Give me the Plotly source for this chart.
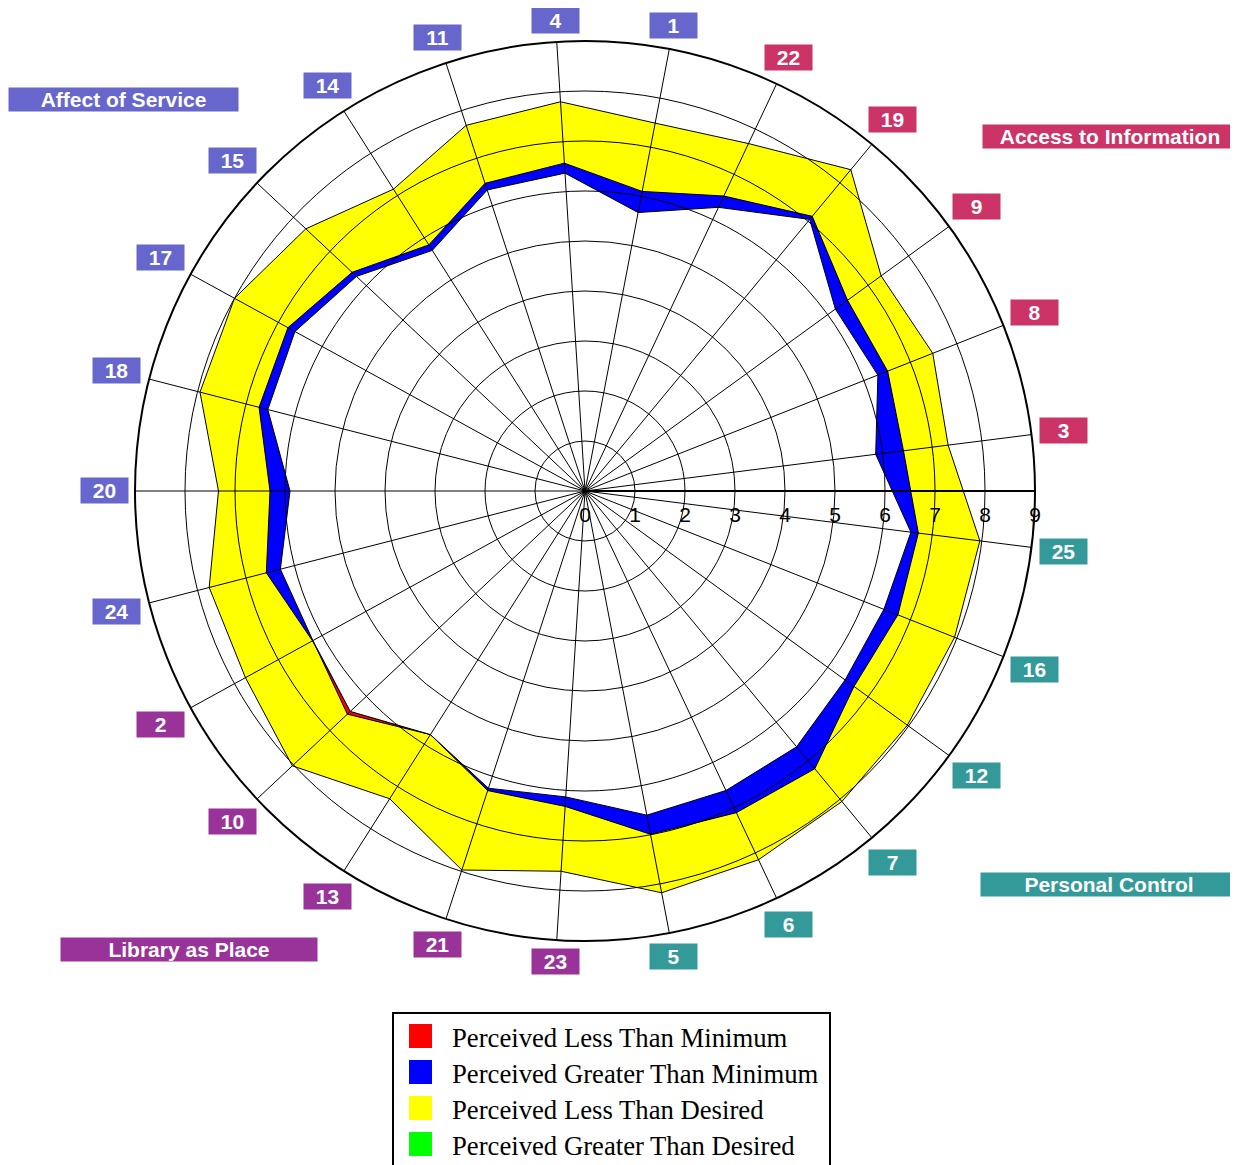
import numpy as np
import plotly.graph_objects as go

# page body has an 8px margin: the figure is laid out in page pixels minus that offset
OFF = 8
W, H = 1238 - OFF, 1165 - OFF

# ---- data (clockwise from the top) ----
questions = ["4", "1", "22", "19", "9", "8", "3", "25", "16", "12", "7", "6", "5",
             "23", "21", "13", "10", "2", "24", "20", "18", "17", "15", "14", "11"]
dimension = ["AS", "AS", "IC", "IC", "IC", "IC", "IC", "PC", "PC", "PC", "PC", "PC", "PC",
             "LP", "LP", "LP", "LP", "LP", "AS", "AS", "AS", "AS", "AS", "AS", "AS"]
desired = [7.80, 7.49, 7.68, 8.34, 7.32, 7.48, 7.32, 7.96, 7.95, 7.97, 8.06, 8.15, 8.18,
           7.62, 7.97, 7.29, 8.03, 7.75, 7.76, 7.33, 7.95, 8.00, 7.66, 7.15, 7.69]
perceived = [6.57, 6.10, 6.52, 7.13, 6.49, 6.51, 6.42, 6.72, 6.73, 6.65, 7.21, 7.11, 6.99,
             6.32, 6.30, 5.77, 6.44, 6.22, 6.58, 6.30, 6.73, 6.78, 6.39, 5.83, 6.47]
minimum = [6.37, 5.67, 6.27, 7.05, 6.19, 6.30, 5.86, 6.57, 6.43, 6.43, 6.64, 6.62, 6.60,
           6.13, 6.25, 5.77, 6.52, 6.21, 6.29, 5.90, 6.55, 6.62, 6.27, 5.70, 6.33]
radial_ticks = [0, 1, 2, 3, 4, 5, 6, 7, 8, 9]

dim_names = {"AS": "Affect of Service", "IC": "Access to Information",
             "PC": "Personal Control", "LP": "Library as Place"}
dim_colors = {"AS": "#6666CC", "IC": "#CC3366", "PC": "#339999", "LP": "#993399"}
legend_names = ["Perceived Less Than Minimum", "Perceived Greater Than Minimum",
                "Perceived Less Than Desired", "Perceived Greater Than Desired"]
legend_colors = ["#FF0000", "#0000FF", "#FFFF00", "#00FF00"]

# ---- geometry (page pixels) ----
CX, CY, R = 585, 491, 450
ROT = 93.6
N = len(questions)


def px2paper(x, y):
    return (x - OFF) / W, 1 - (y - OFF) / H


def closed(v):
    v = list(v)
    return v + v[:1]


theta_c = closed(questions)
lower = np.minimum(np.array(perceived), np.array(minimum))

fig = go.Figure()
line = dict(color="black", width=1)
for vals, col in [(desired, "#FFFF00"), (minimum, "#FF0000"),
                  (perceived, "#0000FF"), (lower, "#FFFFFF")]:
    fig.add_trace(go.Scatterpolar(r=closed(vals), theta=theta_c, mode="lines",
                                  fill="toself", fillcolor=col, line=line,
                                  showlegend=False, hoverinfo="skip", subplot="polar"))

# overlay subplot carrying the grid above the fills
fig.add_trace(go.Scatterpolar(r=desired, theta=questions, mode="markers",
                              marker=dict(size=1, opacity=0), showlegend=False,
                              hoverinfo="skip", subplot="polar2"))

x0, y1 = px2paper(CX - R, CY - R)
x1, y0 = px2paper(CX + R, CY + R)
dom = dict(x=[x0, x1], y=[y0, y1])

ang_common = dict(type="category", categoryorder="array", categoryarray=questions,
                  direction="clockwise", rotation=ROT, showticklabels=False, ticks="")

fig.update_layout(
    width=W, height=H, margin=dict(l=0, r=0, t=0, b=0),
    paper_bgcolor="white", showlegend=False, hovermode=False, dragmode=False,
    polar=dict(domain=dom, bgcolor="white",
               radialaxis=dict(range=[0, 9], showgrid=False, showline=False,
                               showticklabels=False, ticks=""),
               angularaxis=dict(showgrid=False, showline=False, **ang_common)),
    polar2=dict(domain=dom, bgcolor="rgba(0,0,0,0)",
                radialaxis=dict(range=[0, 9], tickvals=radial_ticks, angle=0,
                                side="clockwise", showline=True, linecolor="black",
                                linewidth=2, showgrid=True, gridcolor="black",
                                gridwidth=1, ticks="outside", ticklen=5,
                                tickcolor="rgba(0,0,0,0)",
                                tickfont=dict(family="Liberation Sans, Arial", size=21,
                                              color="black")),
                angularaxis=dict(showgrid=True, gridcolor="black", gridwidth=1,
                                 showline=True, linecolor="black", linewidth=2,
                                 **ang_common)),
)

annotations = []
# question labels: boxes just outside the outer ring, along each spoke
for k, (q, d) in enumerate(zip(questions, dimension)):
    a = np.deg2rad(ROT - k * 360.0 / N)
    ro = 458 + 23 * abs(np.cos(a)) + 12 * abs(np.sin(a))
    ax, ay = px2paper(CX + ro * np.cos(a), CY - ro * np.sin(a))
    annotations.append(dict(x=ax, y=ay, xref="paper", yref="paper",
                            xanchor="center", yanchor="middle",
                            text="<b>%s</b>" % q, showarrow=False, width=47, height=25,
                            bgcolor=dim_colors[d], borderpad=0, align="center",
                            font=dict(family="Liberation Sans, Arial", size=21,
                                      color="white")))

# dimension labels
dim_boxes = {"AS": (123.5, 99.5, 229), "IC": (1110, 136.5, 254),
             "PC": (1109, 884.5, 256), "LP": (189, 949.5, 256)}
for key, (bx, by, bw) in dim_boxes.items():
    ax, ay = px2paper(bx, by)
    annotations.append(dict(x=ax, y=ay, xref="paper", yref="paper",
                            xanchor="center", yanchor="middle",
                            text="<b>%s</b>" % dim_names[key], showarrow=False,
                            width=bw, height=23, bgcolor=dim_colors[key], borderpad=0,
                            font=dict(family="Liberation Sans, Arial", size=21,
                                      color="white")))

# legend (drawn manually)
lx0, ly1 = px2paper(393, 1013)
lx1, _ = px2paper(830, 1013)
shapes = [dict(type="rect", xref="paper", yref="paper", x0=lx0, x1=lx1,
               y0=-0.02, y1=ly1, line=dict(color="black", width=2),
               fillcolor="white", layer="below")]
for i, (nm, col) in enumerate(zip(legend_names, legend_colors)):
    yc = 1036 + 36 * i
    sx0, sy1 = px2paper(409, yc - 12)
    sx1, sy0 = px2paper(432, yc + 12)
    shapes.append(dict(type="rect", xref="paper", yref="paper", x0=sx0, x1=sx1,
                       y0=sy0, y1=sy1, line=dict(width=0), fillcolor=col))
    tx, ty = px2paper(450, yc + 2)
    annotations.append(dict(x=tx, y=ty, xref="paper", yref="paper",
                            text=nm, showarrow=False, xanchor="left", yanchor="middle",
                            font=dict(family="Liberation Serif, Times New Roman", size=26.7,
                                      color="black")))

fig.update_layout(annotations=annotations, shapes=shapes)
fig.write_html("out.html", config={"staticPlot": True})
